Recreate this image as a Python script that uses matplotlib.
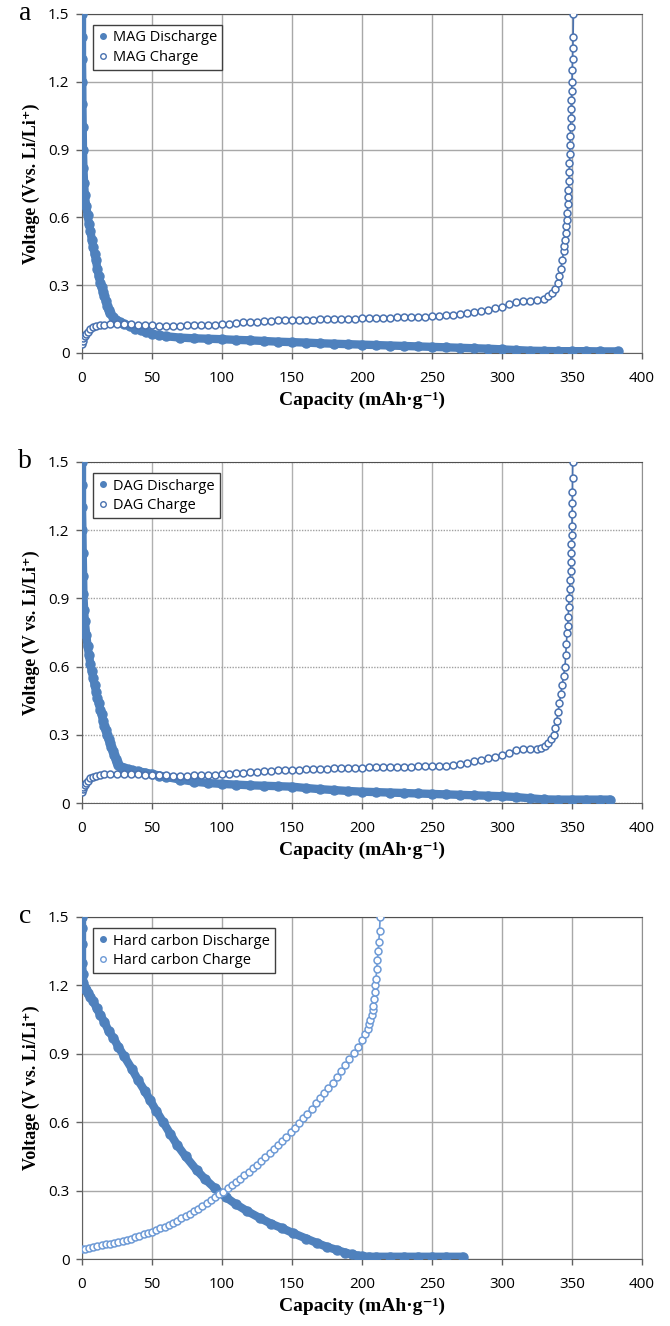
import numpy as np
import matplotlib.pyplot as plt
from matplotlib.lines import Line2D

plt.rcParams.update({
    "font.family": "sans-serif",
    "font.sans-serif": ["Open Sans"],
})

# ---------------- data ----------------
# panel a : MAG
mag_dis_x = [0, 0, 0, 0.2, 0.3, 0.5, 0.7, 1, 1.5, 2, 3, 4, 5, 6, 7, 8, 9, 10, 11, 12,
             13, 14, 15, 16, 17, 18, 19, 20, 22, 24, 27, 30, 34, 38, 42, 46, 50, 55, 60, 70,
             80, 90, 100, 110, 120, 130, 140, 150, 160, 170, 180, 190, 200, 210, 220, 230,
             240, 250, 260, 270, 280, 290, 300, 310, 320, 330, 340, 350, 360, 370, 383]
mag_dis_v = [1.5, 1.4, 1.3, 1.2, 1.1, 1.0, 0.9, 0.82, 0.75, 0.7, 0.65, 0.61, 0.57, 0.54, 0.5,
             0.47, 0.44, 0.41, 0.37, 0.34, 0.31, 0.29, 0.27, 0.25, 0.23, 0.21, 0.19, 0.175,
             0.16, 0.148, 0.137, 0.128, 0.118, 0.108, 0.1, 0.092, 0.085, 0.079, 0.074, 0.068,
             0.065, 0.063, 0.061, 0.058, 0.056, 0.053, 0.05, 0.048, 0.046, 0.043, 0.041, 0.039,
             0.037, 0.035, 0.033, 0.031, 0.029, 0.027, 0.025, 0.023, 0.021, 0.019, 0.016,
             0.013, 0.01, 0.009, 0.008, 0.008, 0.008, 0.007, 0.007]
mag_chg_x = [0, 0.5, 1, 2, 3, 4, 6, 8, 10, 13, 16, 20, 25, 30, 35, 40, 45, 50, 55, 60, 65, 70,
             75, 80, 85, 90, 95, 100, 105, 110, 115, 120, 125, 130, 135, 140, 145, 150, 155,
             160, 165, 170, 175, 180, 185, 190, 195, 200, 205, 210, 215, 220, 225, 230, 235,
             240, 245, 250, 255, 260, 265, 270, 275, 280, 285, 290, 295, 300, 305, 310, 315,
             320, 325, 330, 333, 336, 338, 340, 341, 342, 343, 344, 344.5, 345, 345.5, 346,
             346.3, 346.6, 347, 347.2, 347.5, 347.8, 348, 348.2, 348.4, 348.6, 348.8, 349,
             349.2, 349.4, 349.6, 349.8, 350, 350.2, 350.4, 350.6, 350.8, 351]
mag_chg_v = [0.04, 0.055, 0.065, 0.075, 0.085, 0.095, 0.105, 0.113, 0.118, 0.122, 0.125,
             0.127, 0.127, 0.127, 0.127, 0.126, 0.124, 0.122, 0.121, 0.121, 0.121, 0.121,
             0.122, 0.122, 0.122, 0.123, 0.125, 0.128, 0.13, 0.132, 0.135, 0.137, 0.139,
             0.141, 0.143, 0.145, 0.146, 0.147, 0.147, 0.148, 0.148, 0.149, 0.15, 0.15, 0.151,
             0.152, 0.152, 0.153, 0.153, 0.154, 0.155, 0.156, 0.157, 0.158, 0.159, 0.16,
             0.161, 0.162, 0.164, 0.166, 0.169, 0.172, 0.176, 0.18, 0.186, 0.192, 0.198,
             0.205, 0.215, 0.225, 0.228, 0.23, 0.233, 0.24, 0.25, 0.265, 0.285, 0.31, 0.34,
             0.37, 0.41, 0.45, 0.475, 0.5, 0.53, 0.56, 0.59, 0.62, 0.66, 0.69, 0.72, 0.76,
             0.8, 0.84, 0.88, 0.92, 0.96, 1.0, 1.04, 1.08, 1.12, 1.16, 1.2, 1.25, 1.3, 1.35,
             1.4, 1.5]

# panel b : DAG
dag_dis_x = [0, 0, 0, 0.3, 0.5, 0.8, 1, 1.5, 2, 3, 4, 5, 6, 7, 8, 9, 10, 11, 12, 13, 14, 15,
             16, 17, 18, 19, 20, 21, 22, 23, 24, 25, 26, 28, 30, 33, 36, 40, 45, 50, 55, 60,
             70, 80, 90, 100, 110, 120, 130, 140, 150, 160, 170, 180, 190, 200, 210, 220, 230,
             240, 250, 260, 270, 280, 290, 300, 310, 320, 330, 340, 350, 360, 370, 377]
dag_dis_v = [1.5, 1.4, 1.3, 1.2, 1.1, 1.0, 0.92, 0.85, 0.8, 0.74, 0.69, 0.65, 0.61, 0.58, 0.55,
             0.52, 0.49, 0.46, 0.44, 0.41, 0.39, 0.36, 0.34, 0.32, 0.3, 0.28, 0.265, 0.245,
             0.23, 0.21, 0.195, 0.18, 0.168, 0.158, 0.152, 0.148, 0.144, 0.14, 0.134, 0.128,
             0.121, 0.115, 0.103, 0.094, 0.088, 0.084, 0.081, 0.078, 0.076, 0.074, 0.072,
             0.066, 0.061, 0.057, 0.053, 0.05, 0.048, 0.046, 0.044, 0.042, 0.04, 0.038, 0.036,
             0.034, 0.032, 0.03, 0.026, 0.021, 0.016, 0.015, 0.015, 0.015, 0.015, 0.015]
dag_chg_x = [0, 0.5, 1, 2, 3, 4, 6, 8, 10, 13, 16, 20, 25, 30, 35, 40, 45, 50, 55, 60, 65, 70,
             75, 80, 85, 90, 95, 100, 105, 110, 115, 120, 125, 130, 135, 140, 145, 150, 155,
             160, 165, 170, 175, 180, 185, 190, 195, 200, 205, 210, 215, 220, 225, 230, 235,
             240, 245, 250, 255, 260, 265, 270, 275, 280, 285, 290, 295, 300, 305, 310, 315,
             320, 325, 328, 331, 333, 335, 337, 338, 339, 340, 341, 342, 343, 344, 345, 345.5,
             346, 346.5, 347, 347.3, 347.6, 348, 348.3, 348.6, 349, 349.2, 349.4, 349.6,
             349.8, 350, 350.1, 350.2, 350.3, 350.4, 350.5]
dag_chg_v = [0.05, 0.06, 0.07, 0.08, 0.09, 0.098, 0.108, 0.115, 0.12, 0.124, 0.126, 0.127,
             0.127, 0.127, 0.127, 0.126, 0.125, 0.124, 0.123, 0.122, 0.121, 0.121, 0.121,
             0.122, 0.122, 0.123, 0.124, 0.126, 0.128, 0.131, 0.133, 0.136, 0.138, 0.14,
             0.142, 0.144, 0.145, 0.146, 0.147, 0.148, 0.149, 0.15, 0.151, 0.152, 0.153,
             0.154, 0.155, 0.156, 0.157, 0.157, 0.158, 0.158, 0.159, 0.16, 0.16, 0.161, 0.162,
             0.163, 0.164, 0.165, 0.168, 0.172, 0.177, 0.183, 0.19, 0.197, 0.204, 0.212,
             0.222, 0.232, 0.236, 0.237, 0.238, 0.242, 0.252, 0.265, 0.28, 0.3, 0.33, 0.36,
             0.4, 0.44, 0.48, 0.52, 0.56, 0.6, 0.65, 0.7, 0.75, 0.78, 0.82, 0.86, 0.9, 0.94,
             0.98, 1.02, 1.06, 1.1, 1.14, 1.18, 1.22, 1.27, 1.32, 1.37, 1.43, 1.5]

# panel c : hard carbon
hc_dis_x = [0, 0, 0, 0, 0.5, 1, 2, 3, 4.5, 6, 8, 10.5, 13, 16, 19, 22.4, 26, 30, 35.5, 40,
            45, 48.6, 53, 58, 62.9, 68, 74, 81.9, 88, 95, 103, 110, 118, 127, 135, 143, 151,
            160, 168, 175, 182, 188, 193, 197, 200, 205, 210, 220, 230, 240, 250, 260, 272]
hc_dis_v = [1.5, 1.45, 1.38, 1.3, 1.25, 1.21, 1.19, 1.18, 1.165, 1.15, 1.13, 1.1, 1.07, 1.04,
            1.0, 0.97, 0.93, 0.89, 0.835, 0.785, 0.735, 0.697, 0.65, 0.6, 0.55, 0.5, 0.45,
            0.39, 0.35, 0.31, 0.27, 0.24, 0.21, 0.18, 0.155, 0.135, 0.113, 0.09, 0.07, 0.053,
            0.04, 0.028, 0.02, 0.015, 0.012, 0.01, 0.01, 0.01, 0.01, 0.01, 0.01, 0.01, 0.01]
hc_chg_x = [0, 2, 5, 8, 11, 14, 17, 20, 23, 26, 29, 32, 35, 38, 41, 44, 47, 50, 53, 56, 59,
            62, 65, 68, 71, 74, 77, 80, 83, 86, 89, 92, 95, 98, 101, 104, 107, 110, 113, 116,
            119, 122, 125, 128, 131, 134, 137, 140, 143, 146, 149, 152, 155, 158, 161, 164,
            167, 170, 173, 176, 179, 182, 185, 188, 191, 194, 197, 200, 202, 204, 205, 206,
            207, 207.5, 208, 208.5, 209, 209.5, 210, 210.5, 211, 211.5, 212, 212.5, 213]
hc_chg_v = [0.042, 0.045, 0.048, 0.052, 0.056, 0.06, 0.064, 0.068, 0.072, 0.076, 0.08, 0.085,
            0.09, 0.096, 0.102, 0.108, 0.114, 0.12, 0.127, 0.134, 0.142, 0.15, 0.159, 0.168,
            0.178, 0.188, 0.199, 0.21, 0.221, 0.233, 0.245, 0.257, 0.27, 0.283, 0.296, 0.31,
            0.324, 0.338, 0.352, 0.367, 0.382, 0.398, 0.414, 0.43, 0.447, 0.464, 0.481, 0.5,
            0.518, 0.537, 0.556, 0.576, 0.596, 0.617, 0.638, 0.66, 0.682, 0.704, 0.727, 0.75,
            0.774, 0.798, 0.823, 0.849, 0.875, 0.902, 0.93, 0.96, 0.985, 1.01, 1.03, 1.05,
            1.07, 1.09, 1.11, 1.14, 1.17, 1.2, 1.23, 1.27, 1.31, 1.35, 1.39, 1.44, 1.5]

x_ticks = [0, 50, 100, 150, 200, 250, 300, 350, 400]
y_ticks = [0, 0.3, 0.6, 0.9, 1.2, 1.5]
y_tick_labels = ["0", "0.3", "0.6", "0.9", "1.2", "1.5"]

panels = [
    ("a", mag_dis_x, mag_dis_v, mag_chg_x, mag_chg_v,
     "MAG Discharge", "MAG Charge", "Voltage (Vvs. Li/Li\u207a)"),
    ("b", dag_dis_x, dag_dis_v, dag_chg_x, dag_chg_v,
     "DAG Discharge", "DAG Charge", "Voltage (V vs. Li/Li\u207a)"),
    ("c", hc_dis_x, hc_dis_v, hc_chg_x, hc_chg_v,
     "Hard carbon Discharge", "Hard carbon Charge", "Voltage (V vs. Li/Li\u207a)"),
]

dis_col = "#4f81bd"
chg_cols = ["#4a72b0", "#4a72b0", "#6d9ad6"]
serif = ["Liberation Serif", "DejaVu Serif"]

fig = plt.figure(figsize=(6.7, 13.26), dpi=100)
bottoms = [0.7338, 0.3944, 0.0505]
heights = [0.2557, 0.2572, 0.258]

for i, (tag, dx, dv, cx, cv, dlab, clab, ylab) in enumerate(panels):
    ax = fig.add_axes([0.1224, bottoms[i], 0.8358, heights[i]])
    cc = chg_cols[i]

    ax.plot(dx, dv, "-", color=dis_col, lw=6, solid_capstyle="round", zorder=3)
    ax.plot(dx, dv, "o", color=dis_col, ms=6.5, zorder=3)
    ax.plot(cx, cv, "-", color=cc, lw=1.2, zorder=4)
    ax.plot(cx, cv, "o", mfc="white", mec=cc, mew=1.1, ms=5, zorder=4)

    ax.set_xlim(0, 400)
    ax.set_ylim(0, 1.5)
    ax.set_xticks(x_ticks)
    ax.set_yticks(y_ticks)
    ax.set_yticklabels(y_tick_labels)

    if tag == "b":
        ax.xaxis.grid(True, color="#b0b0b0", lw=1.0)
        ax.yaxis.grid(True, color="#a0a0a0", lw=1.0, ls=(0, (1, 1)))
    else:
        ax.grid(True, color="#a8a8a8", lw=1.0)
    ax.set_axisbelow(True)

    for side in ["top", "right"]:
        ax.spines[side].set_color("#909090")
    for side in ["left", "bottom"]:
        ax.spines[side].set_color("#606060")
    ax.spines["top"].set_color("#505050")

    ax.tick_params(axis="both", direction="out", length=4, width=1.0,
                   color="#606060", labelsize=11, pad=5)
    ax.tick_params(axis="x", pad=9)

    ax.set_xlabel("Capacity (mAh\u00b7g\u207b\u00b9)", family=serif,
                  fontweight="bold", fontsize=14, labelpad=4)
    ax.set_ylabel(ylab, family=serif, fontweight="bold", fontsize=13, labelpad=6)

    ax.text(-0.09, 1.0, tag, transform=ax.transAxes, family=serif,
            fontsize=20, ha="right", va="center")

    h1 = Line2D([], [], ls="none", marker="o", color=dis_col, ms=4)
    h2 = Line2D([], [], ls="none", marker="o", mfc="white", mec=cc, mew=1.0, ms=4)
    leg = ax.legend([h1, h2], [dlab, clab], loc="upper left",
                    bbox_to_anchor=(0.015, 0.975), fontsize=10.5, fancybox=False,
                    framealpha=1, edgecolor="#404040", handlelength=0.6,
                    handletextpad=0.4, borderpad=0.35, labelspacing=0.3,
                    borderaxespad=0.2)
    leg.get_frame().set_linewidth(1.0)

fig.savefig("out.png", dpi=100)
